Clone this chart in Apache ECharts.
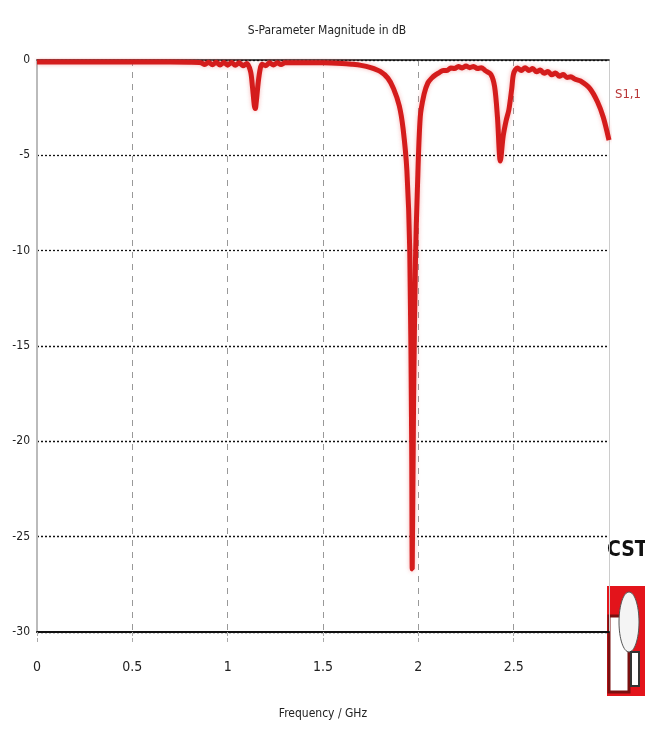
<!DOCTYPE html>
<html>
<head>
<meta charset="utf-8">
<script src="https://cdn.jsdelivr.net/npm/echarts@6/dist/echarts.min.js"></script>
<style>
  html, body { margin: 0; padding: 0; background: #fff; }
  #chart { width: 645px; height: 733px; }
</style>
</head>
<body>
<div id="chart"></div>
<script>
// frequency in GHz and |S11| in dB
const freq = [
  0.00, 0.20, 0.40, 0.60, 0.80, 0.86, 0.88, 0.90, 0.92, 0.94, 0.96, 0.98, 1.00, 1.02, 1.04, 1.06, 1.08, 1.10,
  1.12, 1.13, 1.14, 1.145, 1.15, 1.16, 1.17, 1.18, 1.20, 1.22, 1.24, 1.26, 1.28, 1.30, 1.40, 1.50,
  1.60, 1.65, 1.70, 1.75, 1.80, 1.84, 1.87, 1.90, 1.92, 1.94, 1.955, 1.965, 1.968, 1.975, 1.985, 1.995,
  2.01, 2.03, 2.05, 2.07, 2.09, 2.11, 2.13, 2.15, 2.17, 2.19, 2.21, 2.23, 2.25, 2.27, 2.29, 2.31, 2.33, 2.35,
  2.38, 2.40, 2.415, 2.43, 2.445, 2.46, 2.475, 2.49, 2.50, 2.52, 2.54, 2.56, 2.58, 2.60, 2.62, 2.64, 2.66,
  2.68, 2.70, 2.72, 2.74, 2.76, 2.78, 2.80, 2.82, 2.85, 2.90, 2.94, 2.97, 3.00
]
const s11 = [
  -0.10, -0.10, -0.10, -0.10, -0.12, -0.14, -0.24, -0.12, -0.25, -0.12, -0.26, -0.13, -0.27, -0.13, -0.28, -0.14, -0.30, -0.18,
  -0.60, -1.40, -2.40, -2.55, -2.20, -1.20, -0.50, -0.22, -0.30, -0.14, -0.26, -0.14, -0.24, -0.14, -0.15, -0.15,
  -0.18, -0.22, -0.28, -0.40, -0.60, -0.95, -1.50, -2.40, -3.60, -5.80, -10.0, -20.0, -26.7, -18.0, -10.5, -6.8,
  -3.0, -1.8, -1.2, -0.95, -0.78, -0.66, -0.55, -0.55, -0.42, -0.45, -0.34, -0.42, -0.32, -0.40, -0.34, -0.45, -0.40, -0.55,
  -0.75, -1.40, -3.0, -5.3, -4.0, -3.2, -2.6, -1.5, -0.70, -0.42, -0.55, -0.40, -0.55, -0.45, -0.62, -0.52, -0.70,
  -0.60, -0.78, -0.68, -0.85, -0.76, -0.92, -0.88, -1.00, -1.10, -1.50, -2.20, -3.0, -4.2
]
const xTicks = [0, 0.5, 1, 1.5, 2, 2.5]
const yTicks = [0, -5, -10, -15, -20, -25, -30]

const narrow = "'Liberation Sans Narrow', 'DejaVu Sans Condensed', sans-serif"

const chart = echarts.init(document.getElementById('chart'))
chart.setOption({
  animation: false,
  backgroundColor: '#fff',
  title: {
    text: 'S-Parameter Magnitude in dB',
    left: 322,
    textAlign: 'center',
    top: 20,
    textStyle: { fontFamily: narrow, fontSize: 12, fontWeight: 'normal', color: '#222' }
  },
  grid: { left: 37, right: 36, top: 60, bottom: 101 },
  xAxis: [{
    type: 'value',
    min: xTicks[0],
    max: 3,
    interval: 0.5,
    name: 'Frequency / GHz',
    nameLocation: 'middle',
    nameGap: 76,
    nameTextStyle: { fontFamily: narrow, fontSize: 12, color: '#222' },
    axisLine: { onZero: false, lineStyle: { color: '#111', width: 2 } },
    axisTick: { show: true, length: 10, lineStyle: { color: '#aaa', type: 'dashed' } },
    axisLabel: {
      margin: 28, fontFamily: narrow, fontSize: 14, color: '#222',
      showMaxLabel: false,
      formatter: v => xTicks.includes(v) ? String(v) : ''
    },
    splitLine: { show: true, lineStyle: { color: '#999', type: [6, 6], width: 1 } }
  }, {
    type: 'value',
    position: 'top',
    min: 0,
    max: 3,
    axisLine: { show: true, onZero: false, lineStyle: { color: '#111', width: 1.5 } },
    axisTick: { show: false },
    axisLabel: { show: false },
    splitLine: { show: false }
  }],
  yAxis: [{
    type: 'value',
    min: yTicks[yTicks.length - 1],
    max: yTicks[0],
    interval: 5,
    axisLine: { show: true, onZero: false, lineStyle: { color: '#bbb', width: 2 } },
    axisTick: { show: false },
    axisLabel: { margin: 7, fontFamily: narrow, fontSize: 12, color: '#222' },
    splitLine: { show: true, lineStyle: { color: '#111', type: [2, 2], width: 1.3 } }
  }, {
    type: 'value',
    position: 'right',
    min: -30,
    max: 0,
    axisLine: { show: true, onZero: false, lineStyle: { color: '#ccc', width: 1 } },
    axisTick: { show: false },
    axisLabel: { show: false },
    splitLine: { show: false }
  }],
  series: [{
    name: 'S1,1',
    type: 'line',
    data: freq.map((f, i) => [f, s11[i]]),
    showSymbol: false,
    smooth: 0.3,
    lineStyle: {
      color: '#d41c1c', width: 5,
      shadowColor: 'rgba(235,90,90,0.45)', shadowBlur: 4
    },
    z: 3
  }],
  graphic: [
    {
      type: 'text', left: 615, top: 88,
      style: { text: 'S1,1', fill: '#b83535', font: "13px " + narrow }
    },
    {
      type: 'text', left: 607, top: 540,
      style: { text: 'CST', fill: '#111', font: "bold 21px " + narrow }
    },
    {
      type: 'group', left: 607, top: 586,
      children: [
        { type: 'rect', shape: { x: 0, y: 0, width: 38, height: 110 }, style: { fill: '#e3141b' } },
        { type: 'rect', shape: { x: 2, y: 30, width: 20, height: 76 }, style: { fill: '#fff', stroke: '#7a1010', lineWidth: 3 } },
        { type: 'ellipse', shape: { cx: 22, cy: 36, rx: 10, ry: 30 }, style: { fill: '#f4f4f4', stroke: '#555', lineWidth: 1 } },
        { type: 'rect', shape: { x: 24, y: 66, width: 8, height: 34 }, style: { fill: '#fff', stroke: '#333', lineWidth: 2 } }
      ]
    }
  ]
})
</script>
</body>
</html>
